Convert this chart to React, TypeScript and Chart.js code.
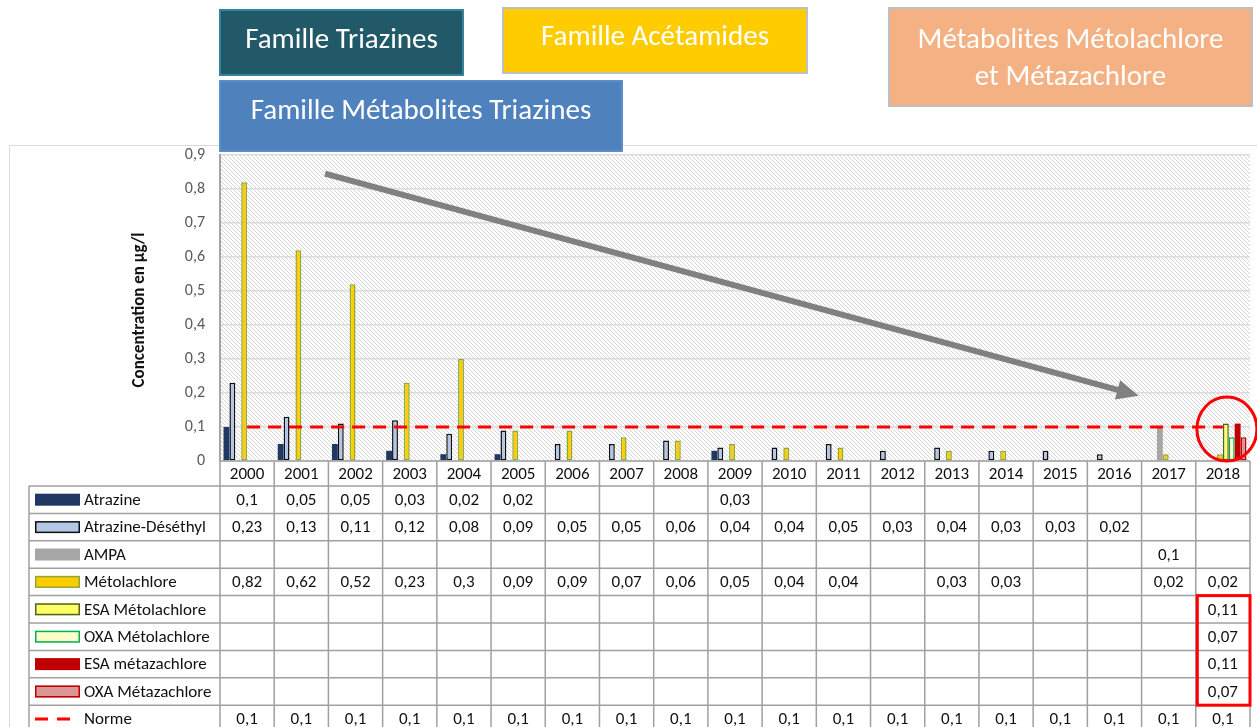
import React, { useEffect, useRef } from 'react';
import { Chart, registerables } from 'chart.js';
Chart.register(...registerables);

const years = ['2000','2001','2002','2003','2004','2005','2006','2007','2008','2009','2010','2011','2012','2013','2014','2015','2016','2017','2018'];
const atrazine = [0.1,0.05,0.05,0.03,0.02,0.02,null,null,null,0.03,null,null,null,null,null,null,null,null,null];
const atrazineDeséthyl = [0.23,0.13,0.11,0.12,0.08,0.09,0.05,0.05,0.06,0.04,0.04,0.05,0.03,0.04,0.03,0.03,0.02,null,null];
const ampa = [null,null,null,null,null,null,null,null,null,null,null,null,null,null,null,null,null,0.1,null];
const metolachlore = [0.82,0.62,0.52,0.23,0.3,0.09,0.09,0.07,0.06,0.05,0.04,0.04,null,0.03,0.03,null,null,0.02,0.02];
const esaMetolachlore = [null,null,null,null,null,null,null,null,null,null,null,null,null,null,null,null,null,null,0.11];
const oxaMetolachlore = [null,null,null,null,null,null,null,null,null,null,null,null,null,null,null,null,null,null,0.07];
const esaMetazachlore = [null,null,null,null,null,null,null,null,null,null,null,null,null,null,null,null,null,null,0.11];
const oxaMetazachlore = [null,null,null,null,null,null,null,null,null,null,null,null,null,null,null,null,null,null,0.07];
const norme = [0.1,0.1,0.1,0.1,0.1,0.1,0.1,0.1,0.1,0.1,0.1,0.1,0.1,0.1,0.1,0.1,0.1,0.1,0.1];
const yTicks = [0,0.1,0.2,0.3,0.4,0.5,0.6,0.7,0.8,0.9];

const barSeries = [
  { label: 'Atrazine', data: atrazine, fill: '#203864', border: '#203864', bw: 0 },
  { label: 'Atrazine-Déséthyl', data: atrazineDeséthyl, fill: '#B4C7E7', border: '#111111', bw: 1.5 },
  { label: 'AMPA', data: ampa, fill: '#A6A6A6', border: '#A6A6A6', bw: 0 },
  { label: 'Métolachlore', data: metolachlore, fill: '#FFCC00', border: '#8FA83C', bw: 1.5 },
  { label: 'ESA Métolachlore', data: esaMetolachlore, fill: '#FFFF66', border: '#4F6228', bw: 1.5 },
  { label: 'OXA Métolachlore', data: oxaMetolachlore, fill: '#FFFFCC', border: '#00B050', bw: 1.5 },
  { label: 'ESA métazachlore', data: esaMetazachlore, fill: '#C00000', border: '#C00000', bw: 0 },
  { label: 'OXA Métazachlore', data: oxaMetazachlore, fill: '#DA9694', border: '#C00000', bw: 1.5 },
];
const normeLabel = 'Norme';

const W = 1257;
const H = 727;
const FONT = 'Carlito, Lato, "Liberation Sans", sans-serif';

const fmt = (v: number) => (v === 0 ? '0' : String(v).replace('.', ','));

function makeHatch(ctx: CanvasRenderingContext2D) {
  const c = document.createElement('canvas');
  c.width = 4; c.height = 4;
  const g = c.getContext('2d')!;
  g.fillStyle = '#ffffff';
  g.fillRect(0, 0, 4, 4);
  g.strokeStyle = '#d6d6d6';
  g.lineWidth = 1;
  g.beginPath();
  g.moveTo(-1, -1); g.lineTo(5, 5);
  g.moveTo(-1, 3); g.lineTo(1, 5);
  g.moveTo(3, -1); g.lineTo(5, 1);
  g.stroke();
  return ctx.createPattern(c, 'repeat');
}

function box(ctx: CanvasRenderingContext2D, x: number, y: number, w: number, h: number, fill: string, stroke: string, lines: string[], lineYs: number[]) {
  ctx.save();
  ctx.fillStyle = fill;
  ctx.fillRect(x, y, w, h);
  ctx.strokeStyle = stroke;
  ctx.lineWidth = 2;
  ctx.strokeRect(x, y, w, h);
  ctx.fillStyle = '#ffffff';
  ctx.font = `29px ${FONT}`;
  ctx.textAlign = 'center';
  ctx.textBaseline = 'middle';
  lines.forEach((t, i) => ctx.fillText(t, x + w / 2, lineYs[i]));
  ctx.restore();
}

const decor = {
  id: 'decor',
  beforeDraw(chart: any) {
    const ctx: CanvasRenderingContext2D = chart.ctx;
    const a = chart.chartArea;
    ctx.save();
    ctx.fillStyle = '#ffffff';
    ctx.fillRect(0, 0, W, H);
    ctx.strokeStyle = '#d9d9d9';
    ctx.lineWidth = 1;
    ctx.strokeRect(9.5, 145.5, W + 10, H);
    const p = makeHatch(ctx);
    if (p) { ctx.fillStyle = p; ctx.fillRect(a.left, a.top, a.right - a.left, a.bottom - a.top); }
    ctx.restore();
    box(ctx, 220, 10, 243, 65, '#215968', '#31859C', ['Famille Triazines'], [41]);
    box(ctx, 503, 8, 304, 65, '#FFCC00', '#BFBFBF', ['Famille Acétamides'], [38]);
    box(ctx, 889, 8, 363, 98, '#F4B183', '#BFBFBF', ['Métabolites Métolachlore', 'et Métazachlore'], [41, 78]);
    box(ctx, 220, 81, 402, 70, '#4F81BD', '#5B8FCB', ['Famille Métabolites Triazines'], [112]);
  },
  afterDraw(chart: any) {
    const ctx: CanvasRenderingContext2D = chart.ctx;
    const a = chart.chartArea;
    const ys = chart.scales.y;
    const n = years.length;
    const colW = (a.right - a.left) / n;
    const labelLeft = 29;
    const headTop = a.bottom;
    const rowTop = 486;
    const rowH = 27.4;
    const rows = [...barSeries.map(s => ({ label: s.label, data: s.data as (number | null)[] })), { label: normeLabel, data: norme as (number | null)[] }];

    ctx.save();
    ctx.strokeStyle = '#A0A0A0';
    ctx.lineWidth = 1.5;
    ctx.beginPath();
    ctx.moveTo(a.left, headTop); ctx.lineTo(a.right, headTop);
    for (let i = 0; i <= n; i++) {
      const x = a.left + i * colW;
      ctx.moveTo(x, headTop); ctx.lineTo(x, H + 5);
    }
    ctx.moveTo(labelLeft, rowTop); ctx.lineTo(labelLeft, H + 5);
    for (let r = 0; r <= rows.length; r++) {
      const y = rowTop + r * rowH;
      ctx.moveTo(labelLeft, y); ctx.lineTo(a.right, y);
    }
    ctx.stroke();

    ctx.fillStyle = '#111111';
    ctx.font = `17px ${FONT}`;
    ctx.textAlign = 'center';
    ctx.textBaseline = 'middle';
    years.forEach((yr, i) => ctx.fillText(yr, a.left + (i + 0.5) * colW, (headTop + rowTop) / 2 + 1));

    rows.forEach((row, r) => {
      const cy = rowTop + (r + 0.5) * rowH;
      if (r < barSeries.length) {
        const s = barSeries[r];
        ctx.fillStyle = s.fill;
        ctx.fillRect(35, cy - 6, 45, 12);
        if (s.bw > 0) {
          ctx.strokeStyle = s.border;
          ctx.lineWidth = 1.5;
          ctx.strokeRect(35.75, cy - 5.25, 43.5, 10.5);
        }
      } else {
        ctx.strokeStyle = '#FF0000';
        ctx.lineWidth = 3;
        ctx.beginPath();
        ctx.moveTo(35, cy); ctx.lineTo(48, cy);
        ctx.moveTo(57, cy); ctx.lineTo(70, cy);
        ctx.stroke();
      }
      ctx.fillStyle = '#111111';
      ctx.font = `17px ${FONT}`;
      ctx.textAlign = 'left';
      ctx.fillText(row.label, 84, cy + 1);
      ctx.textAlign = 'center';
      row.data.forEach((v, i) => {
        if (v !== null && v !== undefined) ctx.fillText(fmt(v), a.left + (i + 0.5) * colW, cy + 1);
      });
    });

    ctx.save();
    ctx.translate(140, 310);
    ctx.rotate(-Math.PI / 2);
    ctx.font = `bold 17px ${FONT}`;
    ctx.fillStyle = '#111111';
    ctx.textAlign = 'center';
    ctx.textBaseline = 'middle';
    ctx.fillText('Concentration en µg/l', 0, 0);
    ctx.restore();

    const x1 = a.left + 0.102 * (a.right - a.left), y1 = ys.getPixelForValue(0.845);
    const x2 = a.left + 0.892 * (a.right - a.left), y2 = ys.getPixelForValue(0.192);
    const ang = Math.atan2(y2 - y1, x2 - x1);
    const hl = 22, hw = 10;
    const bx = x2 - hl * Math.cos(ang), by = y2 - hl * Math.sin(ang);
    ctx.strokeStyle = '#808080';
    ctx.fillStyle = '#808080';
    ctx.lineWidth = 6;
    ctx.lineCap = 'butt';
    ctx.beginPath();
    ctx.moveTo(x1, y1); ctx.lineTo(bx + 3 * Math.cos(ang), by + 3 * Math.sin(ang));
    ctx.stroke();
    ctx.beginPath();
    ctx.moveTo(x2, y2);
    ctx.lineTo(bx + hw * Math.sin(ang), by - hw * Math.cos(ang));
    ctx.lineTo(bx - hw * Math.sin(ang), by + hw * Math.cos(ang));
    ctx.closePath();
    ctx.fill();

    const cx = a.left + (n - 0.5) * colW + 4;
    ctx.strokeStyle = '#FF0000';
    ctx.lineWidth = 3;
    ctx.beginPath();
    ctx.ellipse(cx, ys.getPixelForValue(0.094), 30, 32, 0, 0, Math.PI * 2);
    ctx.stroke();

    const rx = a.left + (n - 1) * colW + 1.5;
    ctx.strokeRect(rx, rowTop + 4 * rowH, colW - 1.5, 4 * rowH);
    ctx.restore();
  },
};

export default function App() {
  const ref = useRef<HTMLCanvasElement | null>(null);
  useEffect(() => {
    if (!ref.current) return;
    const datasets: any[] = barSeries.map(s => ({
      type: 'bar',
      label: s.label,
      data: s.data,
      backgroundColor: s.fill,
      borderColor: s.border,
      borderWidth: s.bw,
      borderSkipped: false,
      categoryPercentage: 0.87,
      barPercentage: 1.0,
    }));
    datasets.push({
      type: 'line',
      label: normeLabel,
      data: norme,
      borderColor: '#FF0000',
      borderWidth: 3,
      borderDash: [13, 8],
      pointRadius: 0,
      fill: false,
      order: -1,
    });
    const chart = new Chart(ref.current, {
      type: 'bar',
      data: { labels: years, datasets },
      options: {
        responsive: false,
        animation: false,
        devicePixelRatio: 1,
        layout: { padding: { left: 0, right: 7, top: 155, bottom: 266 } },
        plugins: { legend: { display: false }, tooltip: { enabled: false } },
        scales: {
          x: {
            grid: { display: false },
            ticks: { display: false },
            border: { display: false },
            afterFit: (s: any) => { s.height = 0; },
          },
          y: {
            min: 0,
            max: 0.9,
            afterFit: (s: any) => { s.width = 220; },
            afterBuildTicks: (s: any) => { s.ticks = yTicks.map(v => ({ value: v })); },
            ticks: {
              padding: 15,
              color: '#595959',
              font: { family: FONT, size: 16 },
              callback: (v: any) => fmt(Number(v)),
            },
            grid: { color: '#dcdcdc', lineWidth: 1.5, drawTicks: false },
            border: { display: true, color: '#A6A6A6', width: 2 },
          },
        },
      },
      plugins: [decor],
    } as any);
    return () => chart.destroy();
  }, []);
  return (
    <div style={{ position: 'absolute', left: 0, top: 0, width: W, height: H }}>
      <canvas ref={ref} width={W} height={H} style={{ display: 'block' }} />
    </div>
  );
}
